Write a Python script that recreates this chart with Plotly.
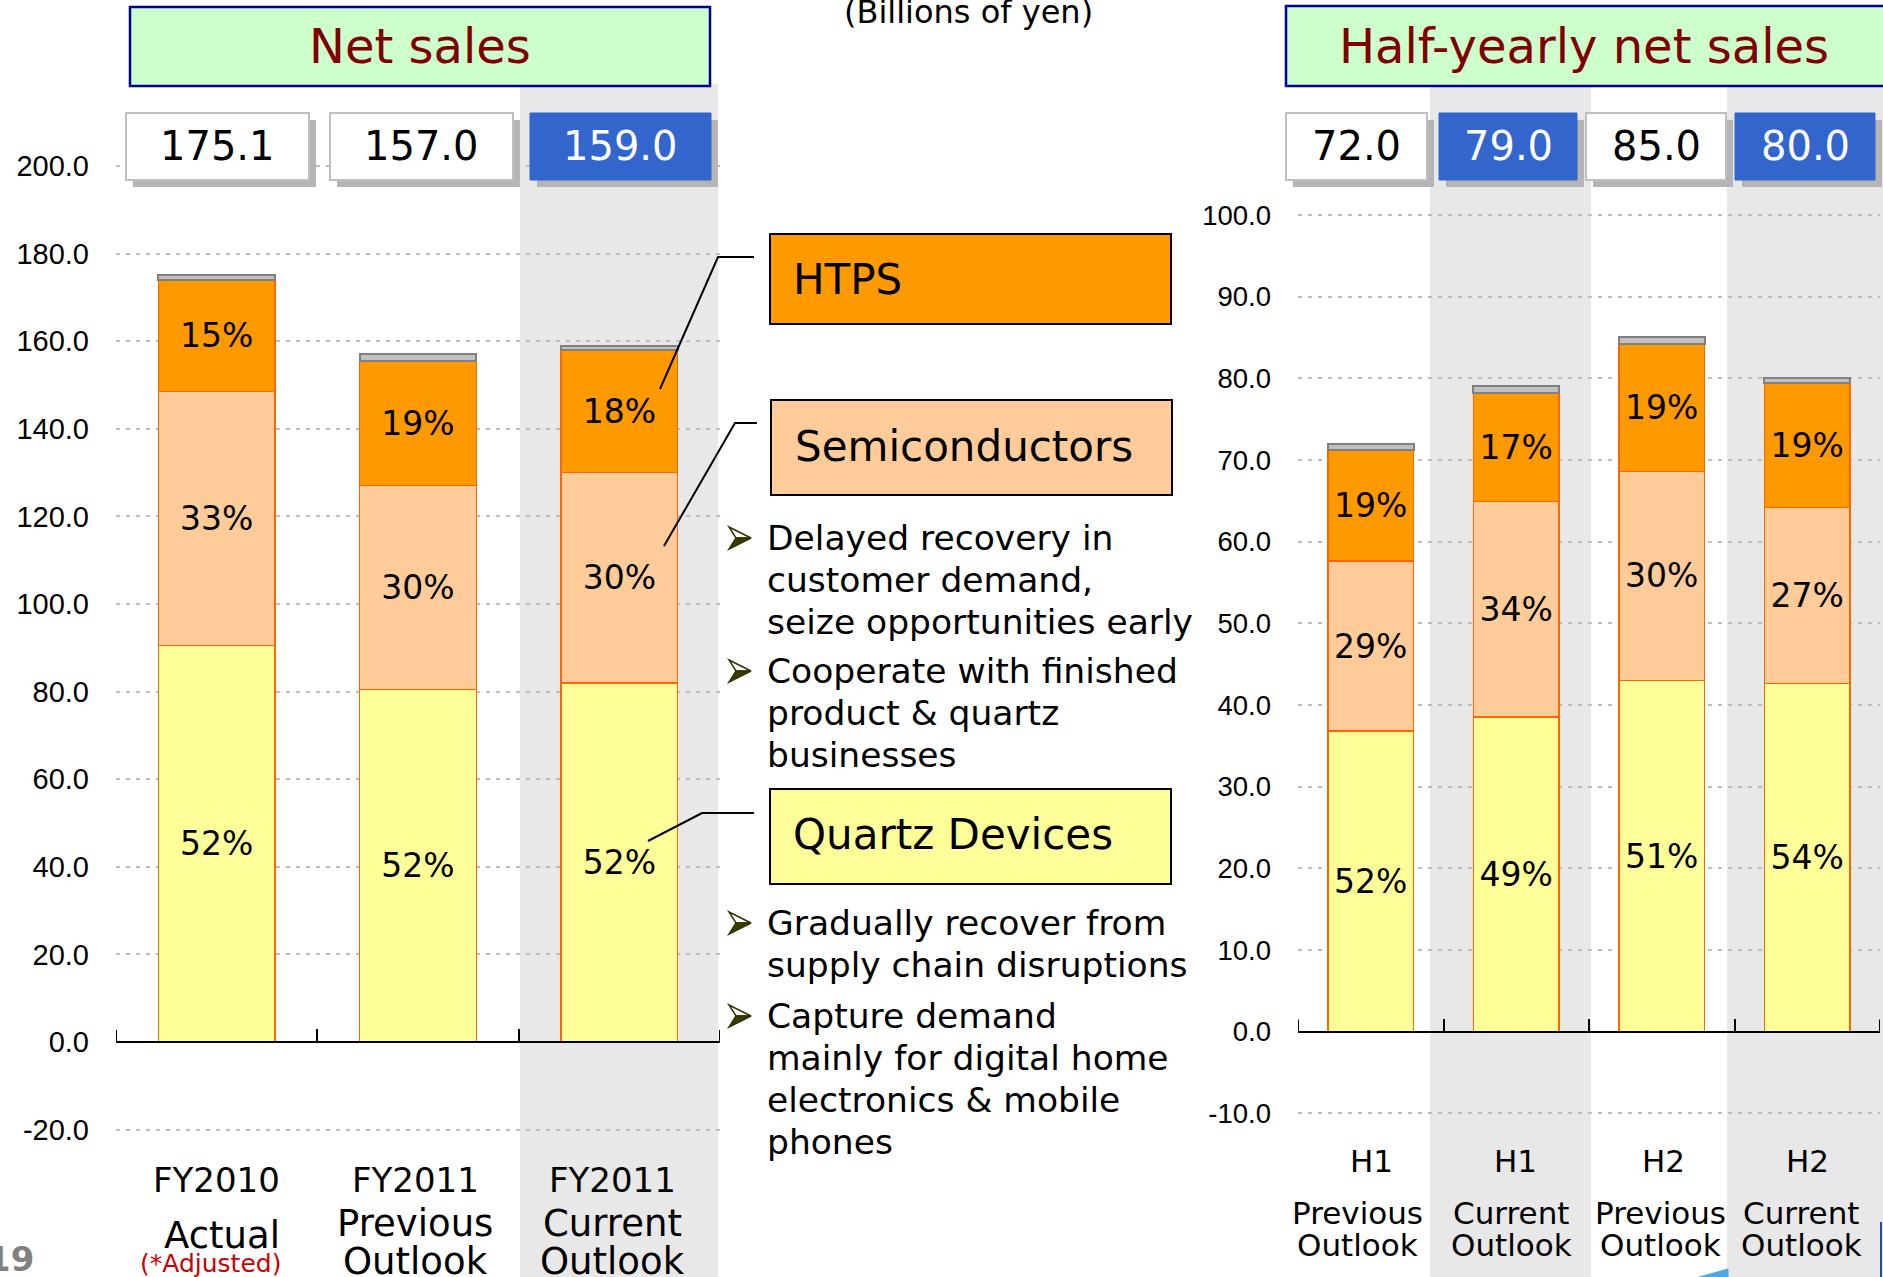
import plotly.graph_objects as go

W, H = 1883, 1277

# ---------------- data ----------------
fy_cats = ["FY2010 Actual", "FY2011 Previous Outlook", "FY2011 Current Outlook"]
fy_quartz = [90.5, 80.5, 82.0]
fy_semi = [58.0, 46.5, 48.0]
fy_htps = [25.5, 28.5, 28.0]
fy_other = [1.1, 1.5, 1.0]
fy_totals = [175.1, 157.0, 159.0]
fy_quartz_pct = ["52%", "52%", "52%"]
fy_semi_pct = ["33%", "30%", "30%"]
fy_htps_pct = ["15%", "19%", "18%"]

hy_cats = ["H1 Previous Outlook", "H1 Current Outlook", "H2 Previous Outlook", "H2 Current Outlook"]
hy_quartz = [36.8, 38.5, 43.0, 42.6]
hy_semi = [20.8, 26.4, 25.6, 21.6]
hy_htps = [13.6, 13.3, 15.6, 15.2]
hy_other = [0.8, 0.8, 0.8, 0.6]
hy_totals = [72.0, 79.0, 85.0, 80.0]
hy_quartz_pct = ["52%", "49%", "51%", "54%"]
hy_semi_pct = ["29%", "34%", "30%", "27%"]
hy_htps_pct = ["19%", "17%", "19%", "19%"]

fy_ticks = [-20, 0, 20, 40, 60, 80, 100, 120, 140, 160, 180, 200]
hy_ticks = [-10, 0, 10, 20, 30, 40, 50, 60, 70, 80, 90, 100]

fy_label_lines = [["FY2010", "Actual"], ["FY2011", "Previous", "Outlook"], ["FY2011", "Current", "Outlook"]]
hy_label_lines = [["H1", "Previous", "Outlook"], ["H1", "Current", "Outlook"],
                  ["H2", "Previous", "Outlook"], ["H2", "Current", "Outlook"]]
# --------------------------------------

FONT = "DejaVu Sans, Verdana, sans-serif"
TICKFONT = "Liberation Sans, Arial, sans-serif"


def px(x):
    return x / W


def py(y):
    return 1 - y / H


fig = go.Figure()

COL_Q, COL_S, COL_H, COL_O = "#FFFF99", "#FFCC99", "#FF9900", "#C0C0C0"


def add_stack(cats, q, s, h, o, qp, sp, hp, xa, ya, bw):
    xs = list(range(len(cats)))
    for vals, col, txt, lc in [(q, COL_Q, qp, "#FF6600"), (s, COL_S, sp, "#FF6600"),
                               (h, COL_H, hp, "#FF6600"), (o, COL_O, None, "#808080")]:
        fig.add_trace(go.Bar(
            x=xs, y=vals, xaxis=xa, yaxis=ya, width=bw, hovertext=cats,
            marker=dict(color=col, line=dict(color=lc, width=1.5 if lc != "#808080" else 2)),
            text=txt, textposition="inside" if txt else "none",
            insidetextanchor="middle", constraintext="none", textangle=0,
            textfont=dict(family=FONT, size=33, color="black"),
            showlegend=False, hoverinfo="skip"))


add_stack(fy_cats, fy_quartz, fy_semi, fy_htps, fy_other,
          fy_quartz_pct, fy_semi_pct, fy_htps_pct, "x", "y", 0.58)
add_stack(hy_cats, hy_quartz, hy_semi, hy_htps, hy_other,
          hy_quartz_pct, hy_semi_pct, hy_htps_pct, "x2", "y2", 0.59)

# axis geometry (pixel anchors)
L_ZERO, L_K = 1042.0, (1042.0 - 166.0) / 200.0
L_RANGE = [-30, 220]
R_ZERO, R_K = 1031.6, (1031.6 - 215.0) / 100.0
R_RANGE = [-15, 105]

l_dom = [py(L_ZERO - L_K * L_RANGE[0]), py(L_ZERO - L_K * L_RANGE[1])]
r_dom = [py(R_ZERO - R_K * R_RANGE[0]), py(R_ZERO - R_K * R_RANGE[1])]

xcommon = dict(showline=True, linecolor="black", linewidth=2, ticks="inside",
               ticklen=12, tickwidth=2, tickcolor="black",
               showticklabels=False, showgrid=False, zeroline=False,
               anchor="free", fixedrange=True)
ycommon = dict(showgrid=True, gridcolor="#BDBDBD", griddash="4px,6px", gridwidth=2,
               zeroline=False, showline=False, ticks="", fixedrange=True)

n_fy, n_hy = len(fy_cats), len(hy_cats)
fig.update_layout(
    width=W, height=H,
    margin=dict(l=0, r=0, t=0, b=0),
    paper_bgcolor="white", plot_bgcolor="rgba(0,0,0,0)",
    barmode="stack", showlegend=False,
    xaxis=dict(domain=[px(116), px(720)], range=[-0.5, n_fy - 0.5],
               tickvals=[i - 0.5 for i in range(n_fy + 1)],
               position=py(L_ZERO), **xcommon),
    yaxis=dict(domain=l_dom, range=L_RANGE, anchor="x", tickvals=fy_ticks,
               ticktext=[f"{v:.1f}" for v in fy_ticks],
               tickfont=dict(family=TICKFONT, size=29, color="black"),
               ticklabelstandoff=26, **ycommon),
    xaxis2=dict(domain=[px(1298), px(1880)], range=[-0.5, n_hy - 0.5],
                tickvals=[i - 0.5 for i in range(n_hy + 1)],
                position=py(R_ZERO), **xcommon),
    yaxis2=dict(domain=r_dom, range=R_RANGE, anchor="x2", tickvals=hy_ticks,
                ticktext=[f"{v:.1f}" for v in hy_ticks],
                tickfont=dict(family=TICKFONT, size=27.5, color="black"),
                ticklabelstandoff=26, **ycommon),
)

shapes = []
ann = []


def rect(x0, y0, x1, y1, fill, line=None, lw=0, layer="above"):
    shapes.append(dict(type="rect", xref="paper", yref="paper",
                       x0=px(x0), x1=px(x1), y0=py(y1), y1=py(y0),
                       fillcolor=fill, layer=layer,
                       line=dict(color=line or fill, width=lw)))


def poly(pts, fill, line, lw=1):
    path = "M " + " L ".join(f"{px(a)},{py(b)}" for a, b in pts) + " Z"
    shapes.append(dict(type="path", xref="paper", yref="paper", path=path,
                       fillcolor=fill, line=dict(color=line, width=lw)))


def text(x, y, s, size, color="black", xanchor="center", family=FONT, bold=False):
    if bold:
        s = "<b>" + s + "</b>"
    ann.append(dict(xref="paper", yref="paper", x=px(x), y=py(y), text=s,
                    showarrow=False, xanchor=xanchor, yanchor="middle",
                    font=dict(family=family, size=size, color=color)))


# end ticks of the category axes (Plotly drops inside ticks at the very ends)
for xref, n, zero in [("x", n_fy, L_ZERO), ("x2", n_hy, R_ZERO)]:
    for xv in (-0.5, n - 0.5):
        shapes.append(dict(type="line", xref=xref, yref="paper", x0=xv, x1=xv,
                           y0=py(zero), y1=py(zero - 12),
                           line=dict(color="black", width=2)))

# shaded "current outlook" columns
rect(520, 84, 718, 1290, "#E8E8E8", layer="below")
rect(1430, 86, 1591, 1290, "#E8E8E8", layer="below")
rect(1727, 86, 1890, 1290, "#E8E8E8", layer="below")

# title boxes
rect(130, 7, 710, 86, "#CCFFCC", "#000099", 2.5)
text(420, 46, "Net sales", 48, "#800000")
rect(1286, 6, 1895, 86, "#CCFFCC", "#000099", 2.5)
text(1584, 46, "Half-yearly net sales", 48, "#800000")

text(968, 12, "(Billions of yen)", 32)

# total boxes
fy_boxes = [(126, 309, False), (330, 513, False), (530, 711, True)]
hy_boxes = [(1286, 1427, False), (1439, 1577, True), (1586, 1726, False), (1735, 1875, True)]
for (x0, x1, blue), v in list(zip(fy_boxes, fy_totals)) + list(zip(hy_boxes, hy_totals)):
    y0, y1 = 113, 180
    rect(x0 + 7, y0 + 7, x1 + 7, y1 + 7, "#B5B5B5")
    if blue:
        rect(x0, y0, x1, y1, "#3366CC", "#3366CC", 1)
    else:
        rect(x0, y0, x1, y1, "white", "#BFBFBF", 2)
    text((x0 + x1) / 2, (y0 + y1) / 2 - 1, f"{v:.1f}", 40, "white" if blue else "black")

# segment legend boxes
rect(770, 234, 1171, 324, COL_H, "black", 2)
text(791, 279, "HTPS", 42, xanchor="left")
rect(771, 400, 1172, 495, COL_S, "black", 2)
text(793, 446, "Semiconductors", 42, xanchor="left")
rect(770, 789, 1171, 884, COL_Q, "black", 2)
text(791, 835, "Quartz Devices", 42, xanchor="left")

# callout lines
for pts in [[(660, 389), (718, 257), (754, 257)],
            [(664, 546), (735, 423), (757, 423)],
            [(648, 841), (702, 813), (754, 813)]]:
    path = "M " + " L ".join(f"{px(a)},{py(b)}" for a, b in pts)
    shapes.append(dict(type="path", xref="paper", yref="paper", path=path,
                       line=dict(color="black", width=2)))

# bullet texts
bullets = [
    (538, ["Delayed recovery in", "customer demand,", "seize opportunities early"]),
    (671, ["Cooperate with finished", "product & quartz", "businesses"]),
    (923, ["Gradually recover from", "supply chain disruptions"]),
    (1016, ["Capture demand", "mainly for digital home", "electronics & mobile", "phones"]),
]
for y0, lines in bullets:
    ax, ay = 729, y0
    poly([(ax, ay - 11), (ax + 22, ay), (ax + 7, ay)], "white", "#333300", 1.5)
    poly([(ax, ay + 11), (ax + 22, ay), (ax + 7, ay)], "#3A3A00", "#333300", 1.5)
    for i, ln in enumerate(lines):
        text(765, y0 + 42 * i, ln, 34.5, xanchor="left")

# category labels, left
fy_pos = [(216, [1180, 1235]), (415, [1180, 1223, 1261]), (612, [1180, 1223, 1261])]
for (xc, ys), lines in zip(fy_pos, fy_label_lines):
    for j, (yy, ln) in enumerate(zip(ys, lines)):
        text(xc + (6 if ln == "Actual" else 0), yy, ln, 34 if j == 0 else 37)
text(210, 1263, "(*Adjusted)", 25, "#CC0000")

# category labels, right
hy_pos = [(1371, 1357), (1515, 1511), (1663, 1660), (1807, 1801)]
for (xh, xt), lines in zip(hy_pos, hy_label_lines):
    text(xh, 1161, lines[0], 31)
    text(xt, 1213, lines[1], 31)
    text(xt, 1245, lines[2], 31)

# page number
text(36, 1259, "19", 34, "#808080", xanchor="right", bold=True)

# small slide decorations at the bottom edge
poly([(1696, 1278), (1728, 1269), (1728, 1278)], "#4FA8E0", "#4FA8E0", 1)
shapes.append(dict(type="line", xref="paper", yref="paper", x0=px(1881), x1=px(1881),
                   y0=py(1222), y1=py(1278), line=dict(color="#1F4E9A", width=2)))

fig.update_layout(shapes=shapes, annotations=ann)

fig.write_html("out.html", config={"displayModeBar": False},
               post_script="document.body.style.margin='0';")
